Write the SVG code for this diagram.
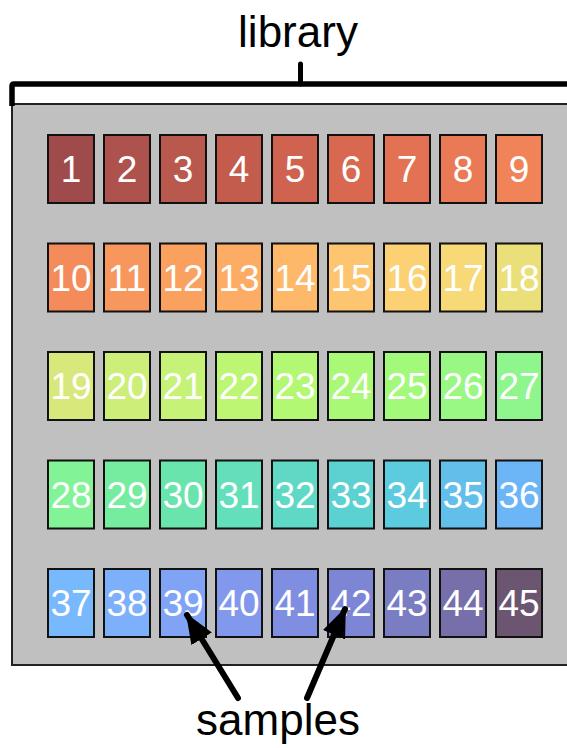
<svg xmlns="http://www.w3.org/2000/svg" width="567" height="748" viewBox="0 0 567 748">
<style>
.lbl{font-family:"Liberation Sans",Arial,sans-serif;font-size:44px;fill:#000;text-anchor:middle}
.sq rect{stroke:#111;stroke-width:2}
.sq text{font-family:"Liberation Sans",Arial,sans-serif;font-size:37px;fill:#fff;text-anchor:middle}
.arrow{stroke:#000;stroke-width:6;stroke-linecap:round;fill:none}
</style>
<defs>
<marker id="ah" markerUnits="userSpaceOnUse" markerWidth="30" markerHeight="24" refX="28" refY="12" orient="auto">
<path d="M0,0 L30,12 L0,24 Z" fill="#000"/>
</marker>
</defs>
<rect x="12" y="104" width="570" height="561" fill="#c0c0c0" stroke="#222" stroke-width="2"/>
<g id="library-bracket">
<path d="M12,106 V86 Q12,84 14,84 H570" fill="none" stroke="#000" stroke-width="5.5" stroke-linejoin="round"/>
<line x1="300.5" y1="64" x2="300.5" y2="84" stroke="#000" stroke-width="5" stroke-linecap="round"/>
<text class="lbl" x="298" y="47">library</text>
</g>
<g id="n1" class="sq"><rect x="48" y="135" width="46" height="68" fill="#a04b4b"/><text x="71" y="182">1</text></g>
<g id="n2" class="sq"><rect x="104" y="135" width="46" height="68" fill="#ad524c"/><text x="127" y="182">2</text></g>
<g id="n3" class="sq"><rect x="160" y="135" width="46" height="68" fill="#b9584d"/><text x="183" y="182">3</text></g>
<g id="n4" class="sq"><rect x="216" y="135" width="46" height="68" fill="#c45c4d"/><text x="239" y="182">4</text></g>
<g id="n5" class="sq"><rect x="272" y="135" width="46" height="68" fill="#d0634f"/><text x="295" y="182">5</text></g>
<g id="n6" class="sq"><rect x="328" y="135" width="46" height="68" fill="#d96850"/><text x="351" y="182">6</text></g>
<g id="n7" class="sq"><rect x="384" y="135" width="46" height="68" fill="#e27253"/><text x="407" y="182">7</text></g>
<g id="n8" class="sq"><rect x="440" y="135" width="46" height="68" fill="#ea7a56"/><text x="463" y="182">8</text></g>
<g id="n9" class="sq"><rect x="496" y="135" width="46" height="68" fill="#f08358"/><text x="519" y="182">9</text></g>
<g id="n10" class="sq"><rect x="48" y="243.5" width="46" height="68" fill="#f38c5a"/><text x="71" y="290.5">10</text></g>
<g id="n11" class="sq"><rect x="104" y="243.5" width="46" height="68" fill="#f7965d"/><text x="127" y="290.5">11</text></g>
<g id="n12" class="sq"><rect x="160" y="243.5" width="46" height="68" fill="#faa160"/><text x="183" y="290.5">12</text></g>
<g id="n13" class="sq"><rect x="216" y="243.5" width="46" height="68" fill="#fcac64"/><text x="239" y="290.5">13</text></g>
<g id="n14" class="sq"><rect x="272" y="243.5" width="46" height="68" fill="#fdb869"/><text x="295" y="290.5">14</text></g>
<g id="n15" class="sq"><rect x="328" y="243.5" width="46" height="68" fill="#fdc56f"/><text x="351" y="290.5">15</text></g>
<g id="n16" class="sq"><rect x="384" y="243.5" width="46" height="68" fill="#fcd174"/><text x="407" y="290.5">16</text></g>
<g id="n17" class="sq"><rect x="440" y="243.5" width="46" height="68" fill="#f7d978"/><text x="463" y="290.5">17</text></g>
<g id="n18" class="sq"><rect x="496" y="243.5" width="46" height="68" fill="#ebdf7a"/><text x="519" y="290.5">18</text></g>
<g id="n19" class="sq"><rect x="48" y="352" width="46" height="68" fill="#d9e87a"/><text x="71" y="399">19</text></g>
<g id="n20" class="sq"><rect x="104" y="352" width="46" height="68" fill="#cdee78"/><text x="127" y="399">20</text></g>
<g id="n21" class="sq"><rect x="160" y="352" width="46" height="68" fill="#c5f277"/><text x="183" y="399">21</text></g>
<g id="n22" class="sq"><rect x="216" y="352" width="46" height="68" fill="#bdf672"/><text x="239" y="399">22</text></g>
<g id="n23" class="sq"><rect x="272" y="352" width="46" height="68" fill="#b3f873"/><text x="295" y="399">23</text></g>
<g id="n24" class="sq"><rect x="328" y="352" width="46" height="68" fill="#aaf976"/><text x="351" y="399">24</text></g>
<g id="n25" class="sq"><rect x="384" y="352" width="46" height="68" fill="#a2f97a"/><text x="407" y="399">25</text></g>
<g id="n26" class="sq"><rect x="440" y="352" width="46" height="68" fill="#98f883"/><text x="463" y="399">26</text></g>
<g id="n27" class="sq"><rect x="496" y="352" width="46" height="68" fill="#8ef68d"/><text x="519" y="399">27</text></g>
<g id="n28" class="sq"><rect x="48" y="460.5" width="46" height="68" fill="#82f396"/><text x="71" y="507.5">28</text></g>
<g id="n29" class="sq"><rect x="104" y="460.5" width="46" height="68" fill="#76eca1"/><text x="127" y="507.5">29</text></g>
<g id="n30" class="sq"><rect x="160" y="460.5" width="46" height="68" fill="#6ae4ad"/><text x="183" y="507.5">30</text></g>
<g id="n31" class="sq"><rect x="216" y="460.5" width="46" height="68" fill="#63dfbb"/><text x="239" y="507.5">31</text></g>
<g id="n32" class="sq"><rect x="272" y="460.5" width="46" height="68" fill="#5fd8c6"/><text x="295" y="507.5">32</text></g>
<g id="n33" class="sq"><rect x="328" y="460.5" width="46" height="68" fill="#5cd1d2"/><text x="351" y="507.5">33</text></g>
<g id="n34" class="sq"><rect x="384" y="460.5" width="46" height="68" fill="#5ccadf"/><text x="407" y="507.5">34</text></g>
<g id="n35" class="sq"><rect x="440" y="460.5" width="46" height="68" fill="#62bfea"/><text x="463" y="507.5">35</text></g>
<g id="n36" class="sq"><rect x="496" y="460.5" width="46" height="68" fill="#6cb6f8"/><text x="519" y="507.5">36</text></g>
<g id="n37" class="sq"><rect x="48" y="569" width="46" height="68" fill="#78b9fd"/><text x="71" y="616">37</text></g>
<g id="n38" class="sq"><rect x="104" y="569" width="46" height="68" fill="#7eaffb"/><text x="127" y="616">38</text></g>
<g id="n39" class="sq"><rect x="160" y="569" width="46" height="68" fill="#80a3f5"/><text x="183" y="616">39</text></g>
<g id="n40" class="sq"><rect x="216" y="569" width="46" height="68" fill="#8198ed"/><text x="239" y="616">40</text></g>
<g id="n41" class="sq"><rect x="272" y="569" width="46" height="68" fill="#808ee2"/><text x="295" y="616">41</text></g>
<g id="n42" class="sq"><rect x="328" y="569" width="46" height="68" fill="#7d86d5"/><text x="351" y="616">42</text></g>
<g id="n43" class="sq"><rect x="384" y="569" width="46" height="68" fill="#7a7dc1"/><text x="407" y="616">43</text></g>
<g id="n44" class="sq"><rect x="440" y="569" width="46" height="68" fill="#776fa9"/><text x="463" y="616">44</text></g>
<g id="n45" class="sq"><rect x="496" y="569" width="46" height="68" fill="#6c5570"/><text x="519" y="616">45</text></g>
<g id="samples">
<text class="lbl" x="278" y="735">samples</text>
</g>
<g id="connectors">
<line class="arrow" x1="238" y1="698" x2="187" y2="615" marker-end="url(#ah)"/>
<line class="arrow" x1="307" y1="698" x2="345" y2="609" marker-end="url(#ah)"/>
</g>
</svg>
